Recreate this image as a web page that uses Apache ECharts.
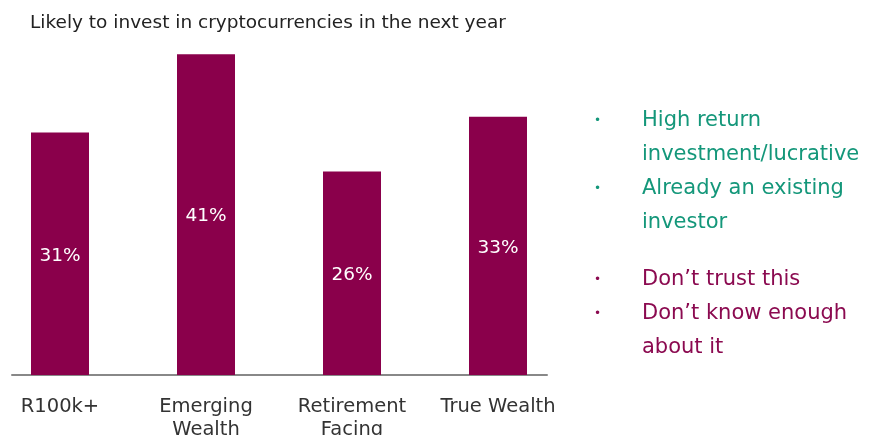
<!DOCTYPE html>
<html>
<head>
<meta charset="utf-8">
<script src="https://cdn.jsdelivr.net/npm/echarts@6/dist/echarts.min.js"></script>
<style>
  html, body { margin: 0; padding: 0; background: #ffffff; }
  #chart { width: 877px; height: 435px; }
</style>
</head>
<body>
<div id="chart"></div>
<script>
// Survey segments and the share likely to invest in crypto next year (%)
const categories = ['R100k+', 'Emerging\nWealth', 'Retirement\nFacing', 'True Wealth'];
const likelyToInvest = [31, 41, 26, 33];

// Reasons given, split into positive and negative drivers
const positiveReasons = ['High return\ninvestment/lucrative', 'Already an existing\ninvestor'];
const negativeReasons = ['Don\u2019t trust this', 'Don\u2019t know enough\nabout it'];

const titleText = 'Likely to invest in cryptocurrencies in the next year';

const BAR = '#8a004b';
const GREEN = '#14977a';
const MAROON = '#8b0a50';
const FONT = '"DejaVu Sans", "Open Sans", sans-serif';

const chart = echarts.init(document.getElementById('chart'));

// Bullet list drawn as text blocks on the right
const lineH = 34;
const reasonGraphics = [];
let y = 104;
function addReasons(list, color) {
  list.forEach(function (txt) {
    const nLines = txt.split('\n').length;
    reasonGraphics.push({
      type: 'text', left: 594, top: y,
      style: { text: '\u2022', fill: color, font: '12px ' + FONT, lineHeight: lineH }
    });
    reasonGraphics.push({
      type: 'text', left: 642, top: y,
      style: { text: txt, fill: color, font: '21px ' + FONT, lineHeight: lineH }
    });
    y += nLines * lineH;
  });
}
addReasons(positiveReasons, GREEN);
y += 23;
addReasons(negativeReasons, MAROON);

chart.setOption({
  animation: false,
  title: {
    text: titleText, left: 30, top: 14, padding: 0,
    textStyle: { fontFamily: FONT, fontSize: 18.5, fontWeight: 'normal', color: '#222222' }
  },
  grid: [
    { left: -13, width: 584, top: 23, bottom: 60, outerBoundsMode: 'none', containLabel: false },
    { left: 12, width: 535, top: 23, bottom: 60, outerBoundsMode: 'none', containLabel: false }
  ],
  xAxis: [
    {
      type: 'category', data: categories, gridIndex: 0,
      axisLine: { show: false }, axisTick: { show: false },
      axisLabel: {
        fontFamily: FONT, fontSize: 19.5, color: '#333333',
        lineHeight: 23, margin: 20, interval: 0
      }
    },
    {
      type: 'value', gridIndex: 1, min: 0, max: 1,
      axisLine: { show: true, lineStyle: { color: '#888888', width: 2 } },
      axisTick: { show: false }, axisLabel: { show: false }, splitLine: { show: false }
    }
  ],
  yAxis: [
    { type: 'value', gridIndex: 0, min: 0, max: 45, show: false },
    { type: 'value', gridIndex: 1, min: 0, max: 45, show: false }
  ],
  series: [{
    type: 'bar', xAxisIndex: 0, yAxisIndex: 0,
    data: likelyToInvest, barWidth: 58,
    itemStyle: { color: BAR },
    label: {
      show: true, position: 'inside', formatter: '{c}%', offset: [0, 2],
      color: '#ffffff', fontFamily: FONT, fontSize: 18.5
    }
  }],
  graphic: reasonGraphics
});
</script>
</body>
</html>
